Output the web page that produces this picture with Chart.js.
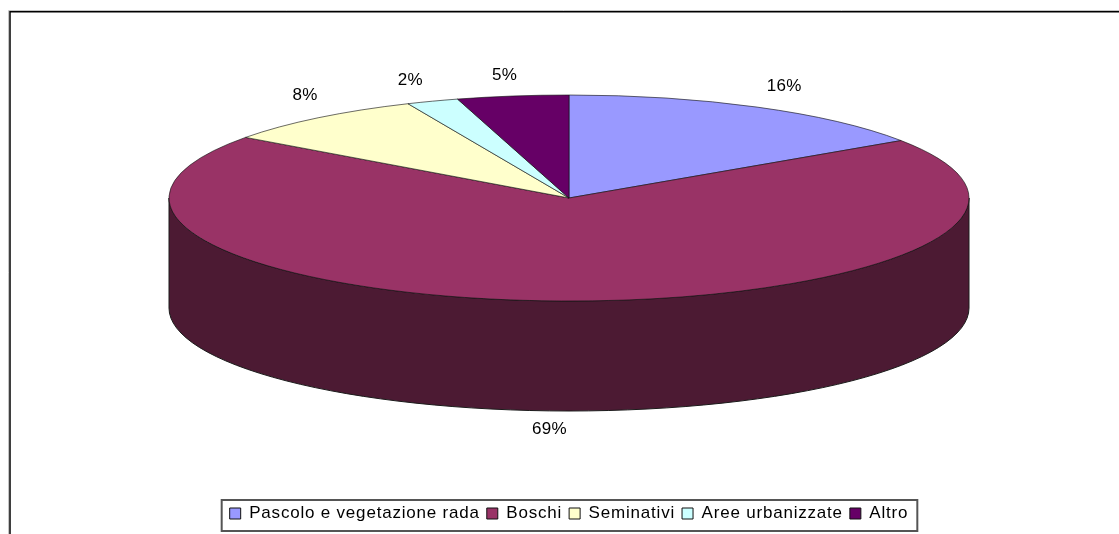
<!DOCTYPE html>
<html lang="en">
    <head>
        <meta charset="UTF-8" />
        <title>Uso del suolo</title>
        <style>
            body {
                background: #fff;
                margin: 0;
                padding: 0;
                overflow: hidden;
            }

            canvas {
                display: block;
            }
        </style>
        <script src="https://cdn.jsdelivr.net/npm/chart.js"></script>
    </head>
    <body>
        <canvas id="chart" width="1119" height="534"></canvas>
        <script>
            const categories = ["Pascolo e vegetazione rada", "Boschi", "Seminativi", "Aree urbanizzate", "Altro"];
            const shares = [15.6, 69.49, 8.4, 2.1, 4.5];
            const sliceColors = ["#9999ff", "#993366", "#ffffcc", "#ccffff", "#660066"];
            const wallColors = ["#4c4c80", "#4c1a33", "#808066", "#668080", "#330033"];

            // where the flattened pie sits on the page
            const pieX = 569;
            const pieY = 198;
            const pieRadius = 400;
            const tilt = 0.2575;
            const depth = 110;

            // nudges of the percent labels from the rim, same order as categories
            const labelNudges = [[27, -21], [-12, 18], [-13, -22], [-22, -21], [-8, -21]];

            function flatten(ctx, arc) {
                ctx.translate(pieX, pieY);
                ctx.scale(1, tilt);
                ctx.translate(-arc.x, -arc.y);
            }

            const pie3d = {
                id: "pie3d",
                afterInit(chart) {
                    // the old picture has stretched, widely spaced text
                    chart.ctx.letterSpacing = "0.8px";
                },
                beforeDraw(chart) {
                    // frame of the pasted picture
                    const ctx = chart.ctx;
                    ctx.save();
                    ctx.strokeStyle = "#c4c4c4";
                    ctx.lineWidth = 1;
                    ctx.beginPath();
                    ctx.moveTo(8.5, 534);
                    ctx.lineTo(8.5, 10.5);
                    ctx.lineTo(1119, 10.5);
                    ctx.stroke();
                    ctx.strokeStyle = "#000";
                    ctx.lineWidth = 1.5;
                    ctx.beginPath();
                    ctx.moveTo(10, 534);
                    ctx.lineTo(10, 11.7);
                    ctx.lineTo(1119, 11.7);
                    ctx.stroke();
                    ctx.restore();
                },
                beforeDatasetsDraw(chart) {
                    const ctx = chart.ctx;
                    const arcs = chart.getDatasetMeta(0).data;

                    // side wall, only the part of each slice facing us
                    arcs.forEach((arc, i) => {
                        for (const turn of [-2, 0, 2]) {
                            const from = Math.max(arc.startAngle + turn * Math.PI, 0);
                            const to = Math.min(arc.endAngle + turn * Math.PI, Math.PI);
                            if (to <= from) continue;
                            const rx = arc.outerRadius;
                            const ry = arc.outerRadius * tilt;
                            ctx.save();
                            ctx.beginPath();
                            ctx.ellipse(pieX, pieY, rx, ry, 0, from, to);
                            ctx.ellipse(pieX, pieY + depth, rx, ry, 0, to, from, true);
                            ctx.closePath();
                            ctx.fillStyle = wallColors[i];
                            ctx.fill();
                            ctx.strokeStyle = "#1a1a1a";
                            ctx.lineWidth = 1;
                            ctx.stroke();
                            ctx.restore();
                        }
                    });

                    ctx.save();
                    flatten(ctx, arcs[0]);
                },
                afterDatasetsDraw(chart) {
                    const ctx = chart.ctx;
                    ctx.restore();

                    ctx.save();
                    ctx.font = "17px 'Liberation Sans', Arial, sans-serif";
                    ctx.letterSpacing = "0.3px";
                    ctx.fillStyle = "#000";
                    ctx.textAlign = "center";
                    ctx.textBaseline = "middle";
                    chart.getDatasetMeta(0).data.forEach((arc, i) => {
                        const mid = (arc.startAngle + arc.endAngle) / 2;
                        const sin = Math.sin(mid);
                        const x = pieX + arc.outerRadius * Math.cos(mid) + labelNudges[i][0];
                        const y = pieY + arc.outerRadius * tilt * sin + (sin > 0 ? depth : 0) + labelNudges[i][1];
                        ctx.fillText(shares[i].toFixed(0) + "%", x, y);
                    });
                    ctx.restore();
                },
                afterDraw(chart) {
                    // box around the legend
                    const ctx = chart.ctx;
                    const boxes = chart.legend.legendHitBoxes;
                    const first = boxes[0];
                    const last = boxes[boxes.length - 1];
                    ctx.save();
                    ctx.strokeStyle = "#555";
                    ctx.lineWidth = 2;
                    ctx.strokeRect(first.left - 8, 500, last.left + last.width - first.left + 17, 31);
                    ctx.restore();
                },
            };

            new Chart(document.getElementById("chart"), {
                type: "pie",
                data: {
                    labels: categories,
                    datasets: [
                        {
                            data: shares,
                            backgroundColor: sliceColors,
                            borderColor: "#111",
                            borderWidth: 1,
                            radius: pieRadius,
                        },
                    ],
                },
                options: {
                    responsive: false,
                    animation: false,
                    layout: { padding: { left: 19, bottom: 2 } },
                    plugins: {
                        tooltip: { enabled: false },
                        legend: {
                            position: "bottom",
                            labels: {
                                color: "#000",
                                boxWidth: 11,
                                boxHeight: 11,
                                padding: 7,
                                font: { family: "'Liberation Sans', Arial, sans-serif", size: 17 },
                            },
                        },
                    },
                },
                plugins: [pie3d],
            });
        </script>
    </body>
</html>
